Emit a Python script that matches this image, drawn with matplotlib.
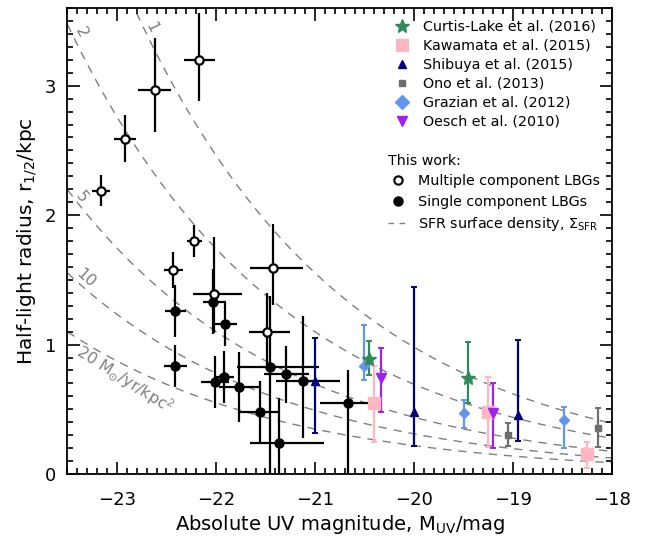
import numpy as np
import matplotlib
matplotlib.use("Agg")
import matplotlib.pyplot as plt
from matplotlib.lines import Line2D
from matplotlib.ticker import MultipleLocator

# this work: multiple component LBGs (open)
multi_M = [-22.17, -22.62, -22.92, -23.16, -22.22, -22.43, -22.02, -21.42, -21.48]
multi_r = [3.20, 2.97, 2.59, 2.19, 1.80, 1.575, 1.39, 1.594, 1.10]
multi_Mlo = [0.155, 0.165, 0.11, 0.09, 0.075, 0.10, 0.21, 0.24, 0.19]
multi_Mhi = [0.155, 0.165, 0.11, 0.09, 0.075, 0.10, 0.28, 0.30, 0.23]
multi_rlo = [0.32, 0.33, 0.18, 0.12, 0.12, 0.14, 0.30, 0.29, 0.30]
multi_rhi = [0.36, 0.40, 0.18, 0.12, 0.12, 0.14, 0.44, 0.34, 0.30]

# this work: single component LBGs (filled)
single_M = [-22.41, -22.41, -22.03, -21.91, -22.01, -21.92, -21.77, -21.56, -21.36, -21.45, -21.29, -21.12, -20.67]
single_r = [1.26, 0.835, 1.33, 1.157, 0.71, 0.75, 0.673, 0.476, 0.237, 0.827, 0.769, 0.72, 0.545]
single_Mlo = [0.11, 0.12, 0.10, 0.125, 0.14, 0.10, 0.20, 0.20, 0.30, 0.34, 0.23, 0.27, 0.28]
single_Mhi = [0.11, 0.12, 0.13, 0.125, 0.14, 0.10, 0.20, 0.20, 0.45, 0.49, 0.23, 0.37, 0.28]
single_rlo = [0.20, 0.16, 0.25, 0.17, 0.20, 0.20, 0.27, 0.24, 0.24, 0.83, 0.22, 0.44, 0.55]
single_rhi = [0.20, 0.16, 0.25, 0.17, 0.20, 0.20, 0.27, 0.24, 0.35, 0.55, 0.22, 0.50, 0.26]

# literature
curtis_M = [-20.45, -19.45]
curtis_r = [0.887, 0.745]
curtis_lo = [0.124, 0.20]
curtis_hi = [0.141, 0.273]

kawamata_M = [-20.40, -19.25, -18.25]
kawamata_r = [0.545, 0.476, 0.154]
kawamata_lo = [0.296, 0.27, 0.11]
kawamata_hi = [0.288, 0.274, 0.095]

shibuya_M = [-21.0, -20.0, -18.95]
shibuya_r = [0.72, 0.476, 0.455]
shibuya_lo = [0.406, 0.258, 0.198]
shibuya_hi = [0.334, 0.968, 0.578]

ono_M = [-19.05, -18.14]
ono_r = [0.303, 0.357]
ono_lo = [0.087, 0.151]
ono_hi = [0.093, 0.149]

grazian_M = [-20.50, -19.50, -18.49]
grazian_r = [0.833, 0.468, 0.414]
grazian_lo = [0.103, 0.111, 0.211]
grazian_hi = [0.316, 0.103, 0.105]

oesch_M = [-20.33, -19.20]
oesch_r = [0.738, 0.468]
oesch_lo = [0.262, 0.265]
oesch_hi = [0.236, 0.236]

# SFR surface density levels (Msun/yr/kpc^2)
sigma_levels = [1, 2, 5, 10, 20]
sigma_labels = ["1", "2", "5", "10", r"20 M$_{\odot}$/yr/kpc$^2$"]
label_M = [-22.70, -23.40, -23.40, -23.38, -23.41]
label_off = [(2, 8), (1, 12), (1, 7), (-1, 9), (1, -9)]

XLIM = (-23.5, -18.0)
YLIM = (0.0, 3.6)


def r_of_M(M, sigma):
    # r_1/2 for given SFR surface density, SFR from UV luminosity
    return 0.98 * 10 ** (-0.2 * (np.asarray(M) + 20.0)) / np.sqrt(sigma)


fig = plt.figure(figsize=(6.59, 5.38), dpi=100)
ax = fig.add_axes([0.1024, 0.119, 0.8263, 0.866])
ax.set_xlim(*XLIM)
ax.set_ylim(*YLIM)

gray = "#7f7f7f"
Mgrid = np.linspace(XLIM[0], XLIM[1], 400)
for s in sigma_levels:
    ax.plot(Mgrid, r_of_M(Mgrid, s), color=gray, lw=1.0, dashes=(6, 5), zorder=1)

# curve labels, rotated along curve
for s, lab, m0, off in zip(sigma_levels, sigma_labels, label_M, label_off):
    r0 = r_of_M(m0, s)
    p1 = ax.transData.transform((m0, r0))
    p2 = ax.transData.transform((m0 + 0.01, r_of_M(m0 + 0.01, s)))
    ang = np.degrees(np.arctan2(p2[1] - p1[1], p2[0] - p1[0]))
    ax.annotate(lab, (m0, r0), xytext=off, textcoords="offset points",
                rotation=ang, rotation_mode="anchor", ha="left", va="center",
                color=gray, fontsize=11.3, zorder=2)

ebk = dict(ecolor="black", elinewidth=1.6, capsize=0, linestyle="none", zorder=4)
ax.errorbar(single_M, single_r, xerr=[single_Mlo, single_Mhi], yerr=[single_rlo, single_rhi],
            fmt="o", mfc="black", mec="black", ms=6.5, **ebk)
ax.errorbar(multi_M, multi_r, xerr=[multi_Mlo, multi_Mhi], yerr=[multi_rlo, multi_rhi],
            fmt="o", mfc="white", mec="black", mew=1.6, ms=6, **ebk)

lit = [
    (shibuya_M, shibuya_r, shibuya_lo, shibuya_hi, "^", "#000080", 6, "Shibuya et al. (2015)"),
    (grazian_M, grazian_r, grazian_lo, grazian_hi, "D", "#6495ed", 5, "Grazian et al. (2012)"),
    (kawamata_M, kawamata_r, kawamata_lo, kawamata_hi, "s", "#ffb6c1", 9, "Kawamata et al. (2015)"),
    (ono_M, ono_r, ono_lo, ono_hi, "s", "#6e6e6e", 5, "Ono et al. (2013)"),
    (oesch_M, oesch_r, oesch_lo, oesch_hi, "v", "#a020f0", 7, "Oesch et al. (2010)"),
    (curtis_M, curtis_r, curtis_lo, curtis_hi, "*", "#2e8b57", 10, "Curtis-Lake et al. (2016)"),
]
for M, r, lo, hi, mk, c, ms, lab in lit:
    ax.errorbar(M, r, yerr=[lo, hi], fmt=mk, color=c, mec=c, ms=ms, elinewidth=1.6,
                capsize=2.5, capthick=1.4, zorder=5)

# legends
h_lit = [
    Line2D([], [], ls="none", marker="*", color="#2e8b57", ms=10, label="Curtis-Lake et al. (2016)"),
    Line2D([], [], ls="none", marker="s", color="#ffb6c1", ms=9, label="Kawamata et al. (2015)"),
    Line2D([], [], ls="none", marker="^", color="#000080", ms=6, label="Shibuya et al. (2015)"),
    Line2D([], [], ls="none", marker="s", color="#6e6e6e", ms=5, label="Ono et al. (2013)"),
    Line2D([], [], ls="none", marker="D", color="#6495ed", ms=7, label="Grazian et al. (2012)"),
    Line2D([], [], ls="none", marker="v", color="#a020f0", ms=7, label="Oesch et al. (2010)"),
]
leg1 = ax.legend(handles=h_lit, loc="upper left", bbox_to_anchor=(0.58, 1.0), frameon=False,
                 fontsize=10.3, handlelength=1.0, handletextpad=1.0, labelspacing=0.35,
                 borderaxespad=0.4)
ax.add_artist(leg1)

h_this = [
    Line2D([], [], ls="none", marker="o", mfc="white", mec="black", mew=1.5, ms=6,
           label="Multiple component LBGs"),
    Line2D([], [], ls="none", marker="o", color="black", ms=6.5, label="Single component LBGs"),
    Line2D([], [], color=gray, lw=1.0, dashes=(4, 4), label=r"SFR surface density, $\Sigma_{\rm SFR}$"),
]
leg2 = ax.legend(handles=h_this, loc="upper left", bbox_to_anchor=(0.565, 0.715), frameon=False,
                 fontsize=10.3, handlelength=1.4, handletextpad=0.7, labelspacing=0.45,
                 title="This work:", title_fontsize=10.3, alignment="left")

ax.xaxis.set_major_locator(MultipleLocator(1))
ax.xaxis.set_minor_locator(MultipleLocator(0.1))
ax.yaxis.set_major_locator(MultipleLocator(1))
ax.yaxis.set_minor_locator(MultipleLocator(0.1))
ax.tick_params(which="both", direction="in", top=True, right=True, width=1.2)
ax.tick_params(which="major", length=9, labelsize=13, pad=8)
ax.tick_params(axis="x", which="major", pad=12)
ax.tick_params(which="minor", length=4.5)
for sp in ax.spines.values():
    sp.set_linewidth(1.3)

ax.set_xlabel(r"Absolute UV magnitude, M$_{\rm UV}$/mag", fontsize=14, labelpad=3)
ax.set_ylabel(r"Half-light radius, r$_{1/2}$/kpc", fontsize=14.5, labelpad=4)

fig.savefig("out.png", dpi=100)
